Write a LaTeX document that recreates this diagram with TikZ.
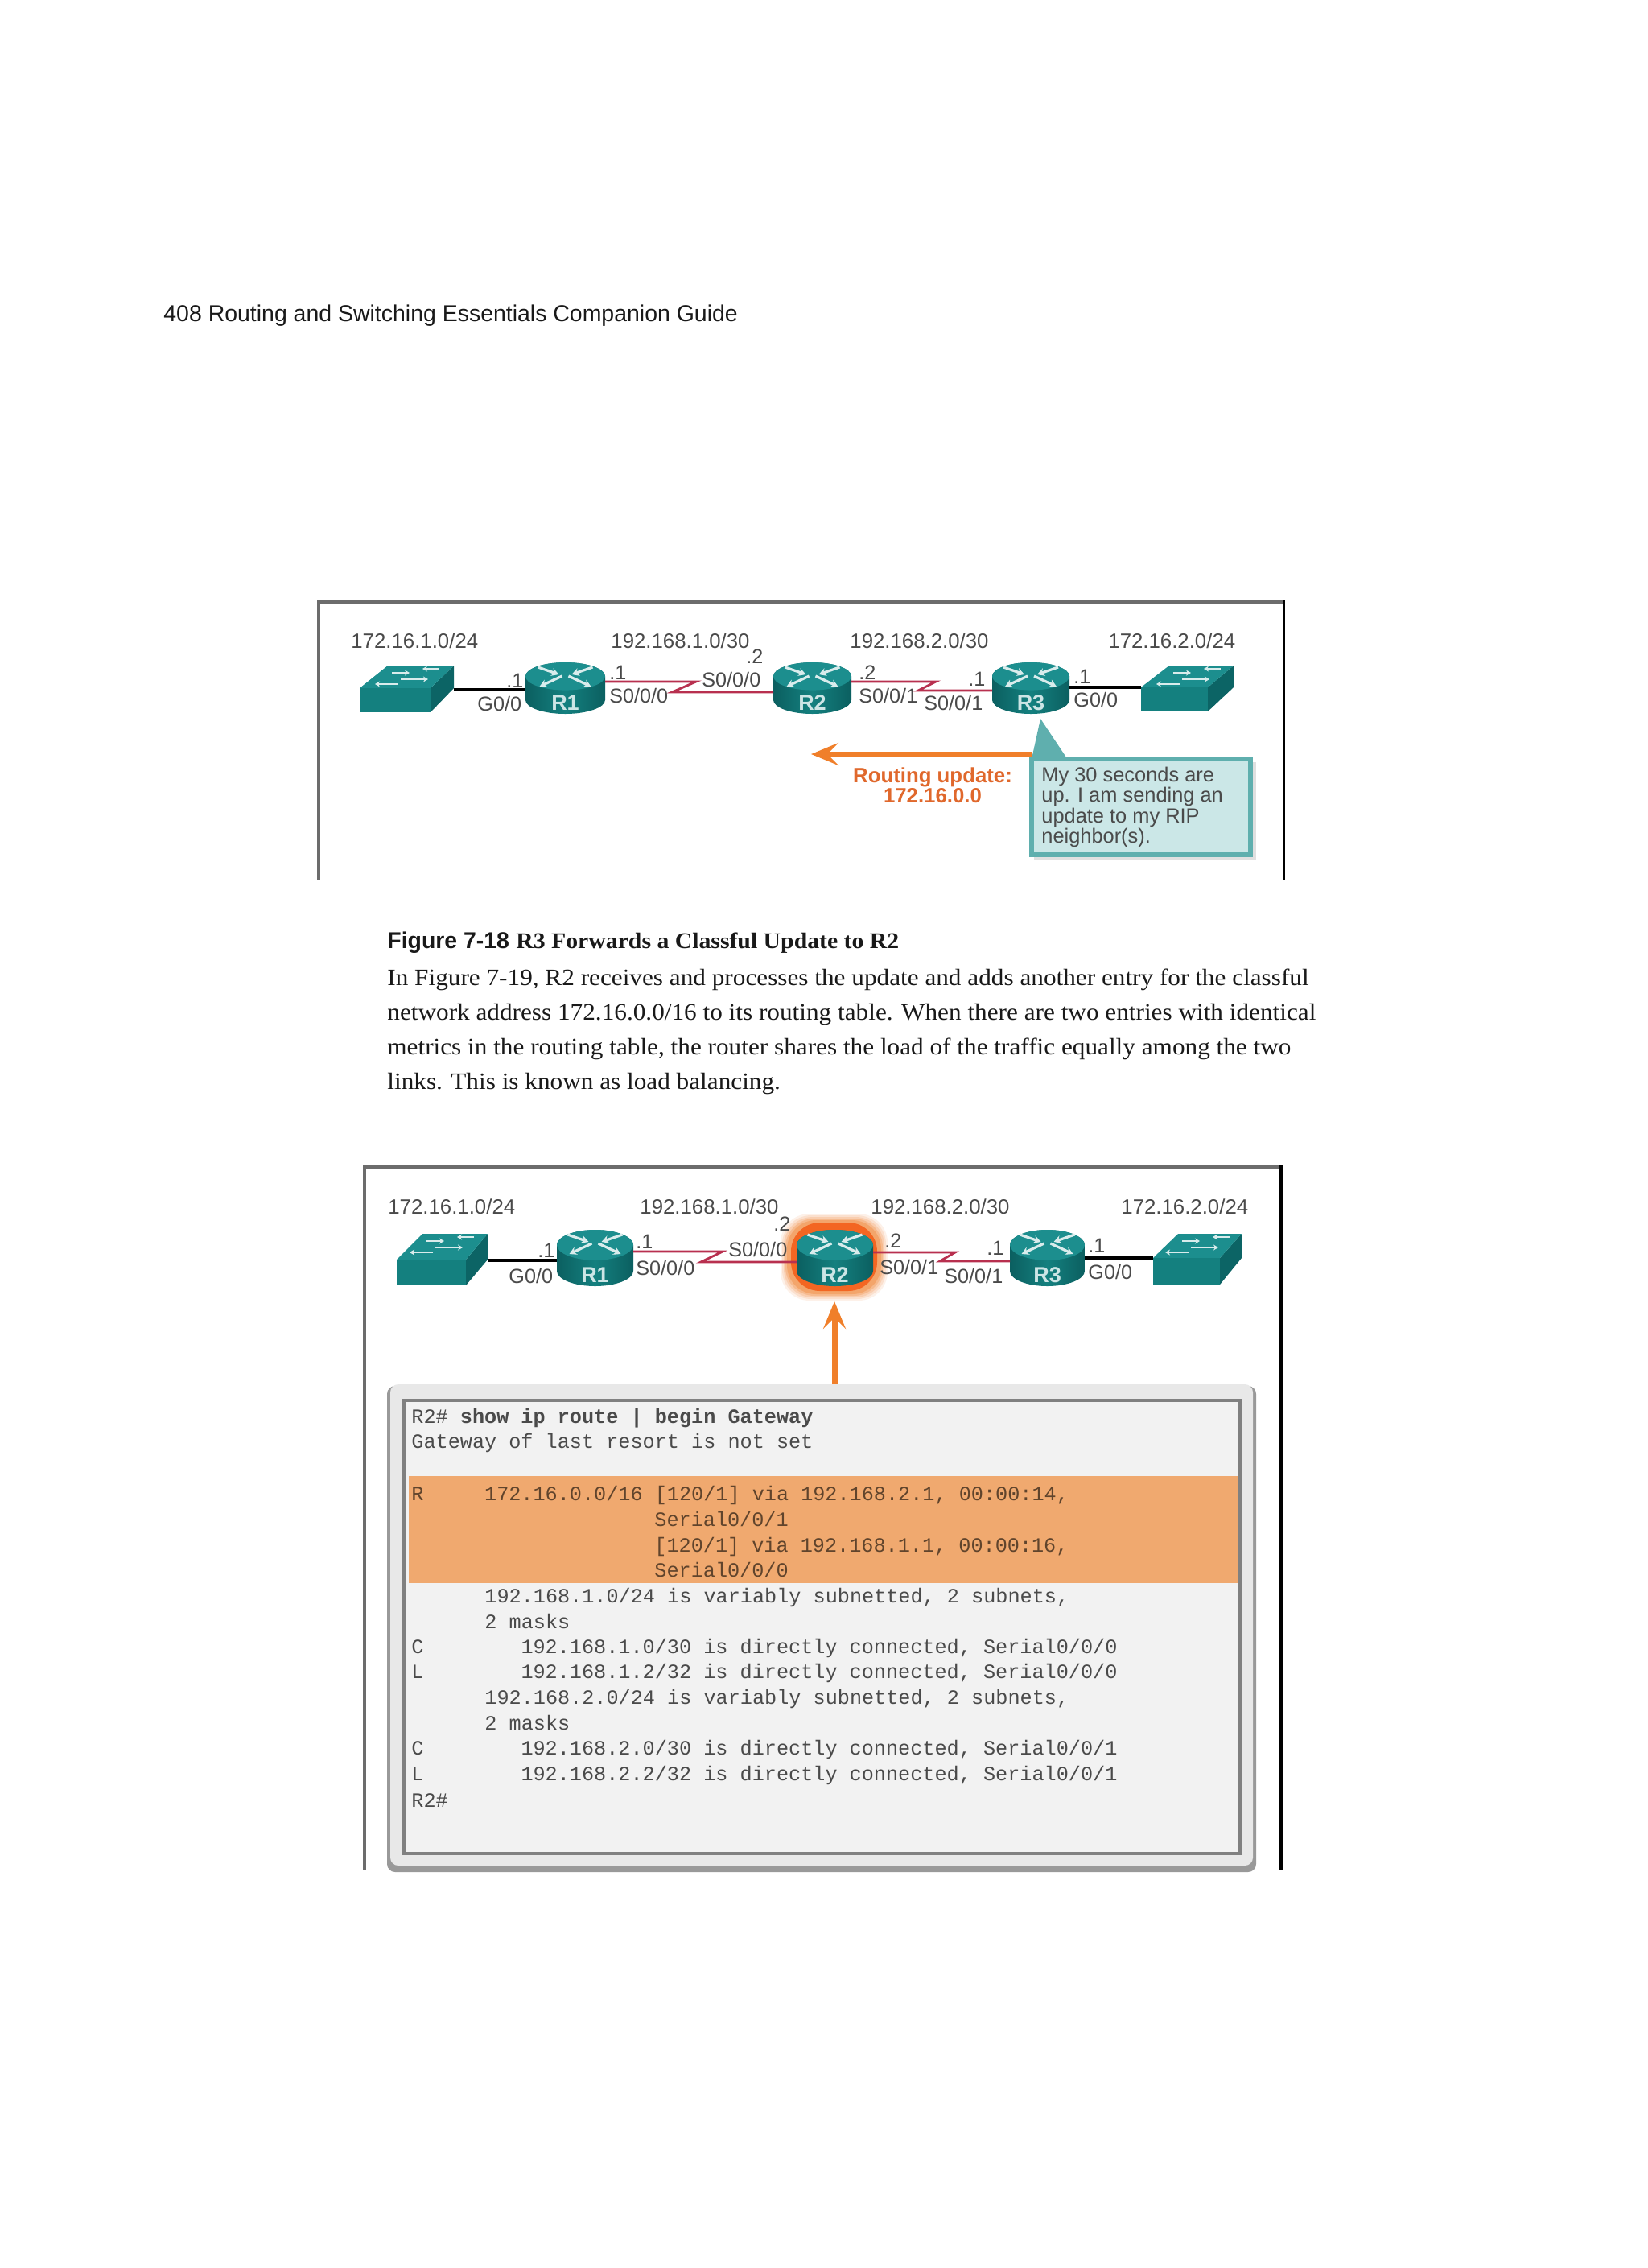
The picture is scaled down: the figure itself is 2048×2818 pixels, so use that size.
\documentclass[tikz,border=0pt]{standalone}
\usepackage{fontspec}
\setmainfont{Liberation Serif}
\setsansfont{Liberation Sans}
\setmonofont{Liberation Mono}
\newfontfamily\bodyfont[FakeStretch=1.07]{Liberation Serif}
\usetikzlibrary{arrows.meta,fit,calc}
\definecolor{tealtop}{HTML}{1C8E8E}
\definecolor{tealdark}{HTML}{0B5F60}
\definecolor{tealmid}{HTML}{14807F}
\definecolor{serialc}{HTML}{B8304F}
\definecolor{orangec}{HTML}{F07F2A}
\definecolor{updatec}{HTML}{E0682C}
\definecolor{inkc}{HTML}{4A4A4A}
\definecolor{calloutb}{HTML}{5FAFAE}
\definecolor{calloutf}{HTML}{CBE7E7}
\definecolor{hilite}{HTML}{F0A96F}
\tikzset{
  lbl/.style={font=\sffamily\fontsize{12.6}{14}\selectfont,text=inkc,inner sep=0pt,anchor=west,text height=9pt,text depth=0pt},
  net/.style={font=\sffamily\fontsize{12.9}{14}\selectfont,text=inkc,inner sep=0pt,anchor=west,text height=9.3pt,text depth=0pt},
  ghost/.style={inner sep=0pt,outer sep=0pt},
  cable/.style={black,line width=2pt},
  serial/.style={serialc,line width=1.4pt,line join=miter},
  bigarrow/.style={orangec,line width=3.5pt,-{Stealth[length=17pt,width=14pt,inset=7pt]}},
  cons/.style={font=\ttfamily\fontsize{12.6}{14}\selectfont,text=#1,inner sep=0pt,anchor=base west},
  cons/.default=inkc,
  para/.style={font=\bodyfont\fontsize{14.6}{18}\selectfont,text=black!90,inner sep=0pt,anchor=base west},
}
% name, x1, x2, ytop, ybot, label
\newcommand\routerart[6]{%
  \pgfmathsetmacro\cxx{(#2+#3)/2}\pgfmathsetmacro\ryy{(#5-#4)*0.27}%
  \pgfmathsetmacro\rxx{(#3-#2)/2}%
  \node[ghost,fit={(#2,#4) (#3,#5)}] (#1) {};
  \path[left color=tealdark,right color=tealdark,middle color=tealmid]
    (#2,#4+\ryy) -- (#2,#5-\ryy) .. controls (#2,#5-\ryy*.45) and (\cxx-\rxx*.55,#5) .. (\cxx,#5)
    .. controls (\cxx+\rxx*.55,#5) and (#3,#5-\ryy*.45) .. (#3,#5-\ryy) -- (#3,#4+\ryy)
    .. controls (#3,#4+\ryy*.45) and (\cxx+\rxx*.55,#4) .. (\cxx,#4)
    .. controls (\cxx-\rxx*.55,#4) and (#2,#4+\ryy*.45) .. (#2,#4+\ryy) -- cycle;
  \path[fill=tealtop]
    (#2,#4+\ryy) .. controls (#2,#4+\ryy*.45) and (\cxx-\rxx*.55,#4) .. (\cxx,#4)
    .. controls (\cxx+\rxx*.55,#4) and (#3,#4+\ryy*.45) .. (#3,#4+\ryy)
    .. controls (#3,#4+\ryy*1.55) and (\cxx+\rxx*.55,#4+2*\ryy) .. (\cxx,#4+2*\ryy)
    .. controls (\cxx-\rxx*.55,#4+2*\ryy) and (#2,#4+\ryy*1.55) .. (#2,#4+\ryy) -- cycle;
  \begin{scope}[white!85!teal,line width=1.6pt,-{Stealth[length=4.5pt,width=5pt]}]
    \draw (\cxx-34,#4+6) -- (\cxx-8,#4+15);
    \draw (\cxx+34,#4+6) -- (\cxx+8,#4+15);
    \draw (\cxx-4,#4+17) -- (\cxx-32,#4+30);
    \draw (\cxx+4,#4+17) -- (\cxx+32,#4+30);
  \end{scope}
  \node[font=\sffamily\bfseries\fontsize{13.5}{14}\selectfont,text=white!80!teal,inner sep=0pt] (#1l) at (\cxx,#5-14) {#6};
}
% name, tl, tr, fl, fr, ytop, ymid, ybot
\newcommand\switchart[8]{%
  \node[ghost,fit={(#4,#6) (#3,#8)}] (#1) {};
  \fill[tealdark!85!tealmid] (#3,#6) -- (#3,#7) -- (#5,#8) -- (#5,#7) -- cycle;
  \fill[tealtop] (#2,#6) -- (#3,#6) -- (#5,#7) -- (#4,#7) -- cycle;
  \fill[tealmid] (#4,#7) rectangle (#5,#8);
  \begin{scope}[white!85!teal,line width=1pt,-{Stealth[length=3pt,width=3.5pt]}]
    \draw (#2+64,#6+4) -- (#2+43,#6+4);
    \draw (#2+5,#6+9) -- (#2+27,#6+9);
    \draw (#2+16,#6+17) -- (#2+50,#6+17);
    \draw (#2+13,#6+23) -- (#2-16,#6+23);
  \end{scope}
}
\begin{document}
\begin{tikzpicture}[x=0.5pt,y=-0.5pt]
\useasboundingbox (0,0) rectangle (2048,2818);
\fill[white] (0,0) rectangle (2048,2818);

% ---------- page text
\node[font=\sffamily\fontsize{14.23}{16}\selectfont,text=black!90,inner sep=0pt,anchor=base west] (hdr) at (203,399) {408 Routing and Switching Essentials Companion Guide};
\node[font=\sffamily\bfseries\fontsize{14.2}{16}\selectfont,text=black!90,inner sep=0pt,anchor=base west] (capa) at (481,1178) {Figure 7-18};
\node[font=\bodyfont\bfseries\fontsize{13.9}{18}\selectfont,text=black!90,inner sep=0pt,anchor=base west] (capb) at (641,1178) {R3 Forwards a Classful Update to R2};
\node[para] (p1) at (481,1224) {In Figure 7-19, R2 receives and processes the update and adds another entry for the classful};
\node[para] (p2) at (481,1267) {network address 172.16.0.0/16 to its routing table. When there are two entries with identical};
\node[para] (p3) at (481,1310) {metrics in the routing table, the router shares the load of the traffic equally among the two};
\node[para] (p4) at (481,1353) {links. This is known as load balancing.};

% ---------- figure 7-18
\fill[gray!85!black] (394,745) rectangle (1597,750);
\fill[gray!85!black] (394,745) rectangle (398,1093);
\fill[black] (1594,745) rectangle (1597,1093);

\node[net] (n1a) at (436,796) {172.16.1.0/24};
\node[net] (n1b) at (759,796) {192.168.1.0/30};
\node[net] (n1c) at (1056,796) {192.168.2.0/30};
\node[net] (n1d) at (1377,796) {172.16.2.0/24};

\switchart{swa}{482}{564}{447}{535}{827}{855}{885}
\routerart{ra1}{653}{752}{823}{887}{R1}
\routerart{ra2}{961}{1058}{823}{887}{R2}
\routerart{ra3}{1233}{1329}{823}{887}{R3}
\switchart{swb}{1453}{1533}{1418}{1501}{827}{854}{884}

\coordinate (aj1) at (865,847);
\coordinate (aj2) at (835,860);
\coordinate (aj3) at (1163,847);
\coordinate (aj4) at (1141,858);
\draw[cable] (swa.east |- 0,857) -- (ra1.west |- 0,857);
\draw[cable] (ra3.east |- 0,854) -- (swb.west |- 0,854);
\draw[serial] (ra1.east |- aj1) -- (aj1) -- (aj2) -- (ra2.west |- aj2);
\draw[serial] (ra2.east |- aj3) -- (aj3) -- (aj4) -- (ra3.west |- aj4);

\node[lbl] (la1) at (629,845) {.1};
\node[lbl] (la2) at (593,874) {G0/0};
\node[lbl] (la3) at (757,835) {.1};
\node[lbl] (la4) at (757,864) {S0/0/0};
\node[lbl] (la5) at (872,844) {S0/0/0};
\node[lbl] (la6) at (927,815) {.2};
\node[lbl] (la7) at (1067,835) {.2};
\node[lbl] (la8) at (1067,864) {S0/0/1};
\node[lbl] (la9) at (1203,843) {.1};
\node[lbl] (la10) at (1148,873) {S0/0/1};
\node[lbl] (la11) at (1334,840) {.1};
\node[lbl] (la12) at (1334,869) {G0/0};

% callout
\fill[black,opacity=.12] (1285,947) rectangle (1561,1069);
\node[ghost,fit={(1282,943) (1554,1062)},fill=calloutf,draw=calloutb,line width=3pt] (call) {};
\coordinate (ctip) at (1293,893);
\fill[calloutb] (ctip) -- (1325,941) -- (call.north west) -- cycle;
\node[font=\sffamily\fontsize{12.7}{12.6}\selectfont,text=inkc,inner sep=0pt,anchor=west,align=left] (calltxt) at (1294,1003) {My 30 seconds are\\up. I am sending an\\update to my RIP\\neighbor(s).};

\coordinate (atip) at (1008,937);
\draw[bigarrow] (call.north west |- atip) -- (atip);
\node[font=\sffamily\bfseries\fontsize{12.9}{12.5}\selectfont,text=updatec,inner sep=0pt,align=center] (upd) at (1159,976) {Routing update:\\172.16.0.0};

% ---------- figure 7-19
\fill[gray!85!black] (451,1447) rectangle (1594,1452);
\fill[gray!85!black] (451,1447) rectangle (455,2324);
\fill[black] (1590,1447) rectangle (1594,2324);

\node[net] (n2a) at (482,1499) {172.16.1.0/24};
\node[net] (n2b) at (795,1499) {192.168.1.0/30};
\node[net] (n2c) at (1082,1499) {192.168.2.0/30};
\node[net] (n2d) at (1393,1499) {172.16.2.0/24};

% glow
\foreach \gr/\go in {12/.10,10/.14,8/.18,6/.25,4/.35}{
  \path[fill=orangec,opacity=\go,rounded corners=18pt] (982-\gr,1520-\gr) rectangle (1091+\gr,1604+\gr);
}
\path[fill=orangec!80!red,rounded corners=18pt] (983,1519) rectangle (1090,1604);

\switchart{swc}{525}{606}{493}{579}{1533}{1565}{1597}
\routerart{rb1}{692}{787}{1528}{1598}{R1}
\routerart{rb2}{990}{1085}{1528}{1598}{R2}
\routerart{rb3}{1255}{1348}{1528}{1598}{R3}
\switchart{swd}{1464}{1543}{1433}{1516}{1533}{1563}{1596}

\coordinate (bj1) at (898,1555);
\coordinate (bj2) at (871,1568);
\coordinate (bj3) at (1187,1556);
\coordinate (bj4) at (1168,1567);
\draw[cable] (swc.east |- 0,1566) -- (rb1.west |- 0,1566);
\draw[cable] (rb3.east |- 0,1563) -- (swd.west |- 0,1563);
\draw[serial] (rb1.east |- bj1) -- (bj1) -- (bj2) -- (rb2.west |- bj2);
\draw[serial] (rb2.east |- bj3) -- (bj3) -- (bj4) -- (rb3.west |- bj4);

\node[lbl] (lb1) at (668,1553) {.1};
\node[lbl] (lb2) at (632,1585) {G0/0};
\node[lbl] (lb3) at (790,1542) {.1};
\node[lbl] (lb4) at (790,1575) {S0/0/0};
\node[lbl] (lb5) at (905,1552) {S0/0/0};
\node[lbl] (lb6) at (961,1520) {.2};
\node[lbl] (lb7) at (1099,1541) {.2};
\node[lbl] (lb8) at (1093,1574) {S0/0/1};
\node[lbl] (lb9) at (1226,1550) {.1};
\node[lbl] (lb10) at (1173,1585) {S0/0/1};
\node[lbl] (lb11) at (1352,1547) {.1};
\node[lbl] (lb12) at (1352,1580) {G0/0};

% console
\fill[black!40,rounded corners=5pt] (481,1722) rectangle (1561,2326);
\node[ghost,fit={(485,1720) (1557,2318)},fill=black!9,rounded corners=5pt] (console) {};
\node[ghost,fit={(502,1740) (1541,2303)},fill=black!5,draw=black!50,line width=2pt] (screen) {};
\node[ghost,fit={(508,1834) (1539,1967)},fill=hilite] (hl) {};

\coordinate (btip) at (1037,1617);
\draw[bigarrow] (btip |- console.north) -- (btip);

\node[cons] (c1) at (511,1768) {R2\#~{\bfseries show ip route | begin Gateway}};
\node[cons] (c2) at (511,1799) {Gateway of last resort is not set};
\node[cons=black!60!hilite] (c3) at (511,1864) {R~~~~~172.16.0.0/16 [120/1] via 192.168.2.1, 00:00:14,};
\node[cons=black!60!hilite] (c4) at (813,1896) {Serial0/0/1};
\node[cons=black!60!hilite] (c5) at (813,1928) {[120/1] via 192.168.1.1, 00:00:16,};
\node[cons=black!60!hilite] (c6) at (813,1959) {Serial0/0/0};
\node[cons] (c7) at (602,1991) {192.168.1.0/24 is variably subnetted, 2 subnets,};
\node[cons] (c8) at (602,2023) {2 masks};
\node[cons] (c9) at (511,2054) {C~~~~~~~~192.168.1.0/30 is directly connected, Serial0/0/0};
\node[cons] (c10) at (511,2085) {L~~~~~~~~192.168.1.2/32 is directly connected, Serial0/0/0};
\node[cons] (c11) at (602,2117) {192.168.2.0/24 is variably subnetted, 2 subnets,};
\node[cons] (c12) at (602,2149) {2 masks};
\node[cons] (c13) at (511,2180) {C~~~~~~~~192.168.2.0/30 is directly connected, Serial0/0/1};
\node[cons] (c14) at (511,2212) {L~~~~~~~~192.168.2.2/32 is directly connected, Serial0/0/1};
\node[cons] (c15) at (511,2245) {R2\#};
\end{tikzpicture}
\end{document}
